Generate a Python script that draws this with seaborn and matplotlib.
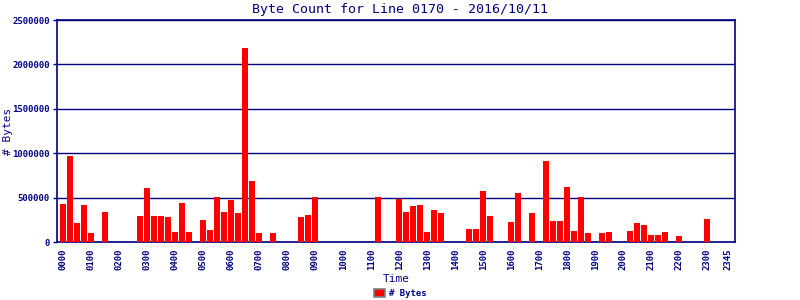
import matplotlib
matplotlib.use("Agg")
import matplotlib.pyplot as plt
import seaborn as sns
import pandas as pd
from matplotlib.patches import Patch

# 15-minute slots over the day
slot_labels = [f"{h:02d}{m:02d}" for h in range(24) for m in (0, 15, 30, 45)]
byte_counts = [
    432000, 963000, 218000, 421000, 105000, 0, 342000, 0,
    0, 0, 0, 297000, 613000, 297000, 297000, 286000,
    117000, 444000, 117000, 0, 252000, 139000, 511000, 342000,
    478000, 331000, 2190000, 692000, 105000, 0, 105000, 0,
    0, 0, 286000, 308000, 511000, 0, 0, 0,
    0, 0, 0, 0, 0, 511000, 0, 0,
    489000, 342000, 410000, 421000, 117000, 365000, 331000, 0,
    0, 0, 150000, 150000, 579000, 297000, 0, 0,
    229000, 556000, 0, 331000, 0, 917000, 241000, 241000,
    624000, 128000, 511000, 105000, 0, 105000, 117000, 0,
    0, 128000, 218000, 196000, 83000, 83000, 117000, 0,
    71000, 0, 0, 0, 263000, 0, 0, 0,
]
tick_positions = list(range(0, 96, 4)) + [95]
tick_labels = [slot_labels[i] for i in tick_positions]
y_ticks = [0, 500000, 1000000, 1500000, 2000000, 2500000]

df = pd.DataFrame({"Time": slot_labels, "Bytes": byte_counts})

sns.set_style("white")
plt.rcParams["font.family"] = ["DejaVu Sans Mono", "DejaVu Sans"]
navy = "#000080"

fig = plt.figure(figsize=(8, 3), dpi=100)
ax = fig.add_axes([57 / 800, 1 - 242 / 300, (735 - 57) / 800, (242 - 20) / 300])
sns.barplot(data=df, x="Time", y="Bytes", order=slot_labels, color="#ff0000",
            width=0.82, saturation=1, ax=ax, zorder=3)
for b in ax.patches:
    b.set_edgecolor("none")

ax.set_xlim(-0.9, 95.96)
ax.set_ylim(0, 2500000)
ax.set_yticks(y_ticks)
ax.set_yticklabels([str(v) for v in y_ticks], fontsize=6.5, fontweight="bold", color=navy)
ax.set_xticks(tick_positions)
ax.set_xticklabels(tick_labels, rotation=90, fontsize=6.5, fontweight="bold", color=navy)
ax.tick_params(axis="y", length=3, width=1, color=navy, pad=2, direction="out", left=True)
ax.tick_params(axis="x", length=0, pad=5)
ax.grid(axis="y", color=navy, linewidth=1, zorder=1)
ax.set_axisbelow(True)
for side in ["left", "right", "top", "bottom"]:
    ax.spines[side].set_visible(True)
    ax.spines[side].set_color(navy)
    ax.spines[side].set_linewidth(1.2)

ax.set_xlabel("Time", fontsize=8, color=navy)
ax.set_ylabel("# Bytes", fontsize=8, color=navy, va="center")
ax.yaxis.set_label_coords(-0.072, 0.5)
ax.xaxis.set_label_coords(0.5, -0.145)

fig.suptitle("Byte Count for Line 0170 - 2016/10/11", fontsize=9.5, color=navy, y=0.99)

handles = [Patch(facecolor="#ff0000", edgecolor="#808080", linewidth=1.2, label="# Bytes")]
fig.legend(handles=handles, loc="lower center", bbox_to_anchor=(0.5, -0.02), frameon=False,
           prop={"size": 6.5, "weight": "bold"}, labelcolor=navy,
           handlelength=1.3, handleheight=0.9, handletextpad=0.4)

fig.savefig("out.png", dpi=100)
